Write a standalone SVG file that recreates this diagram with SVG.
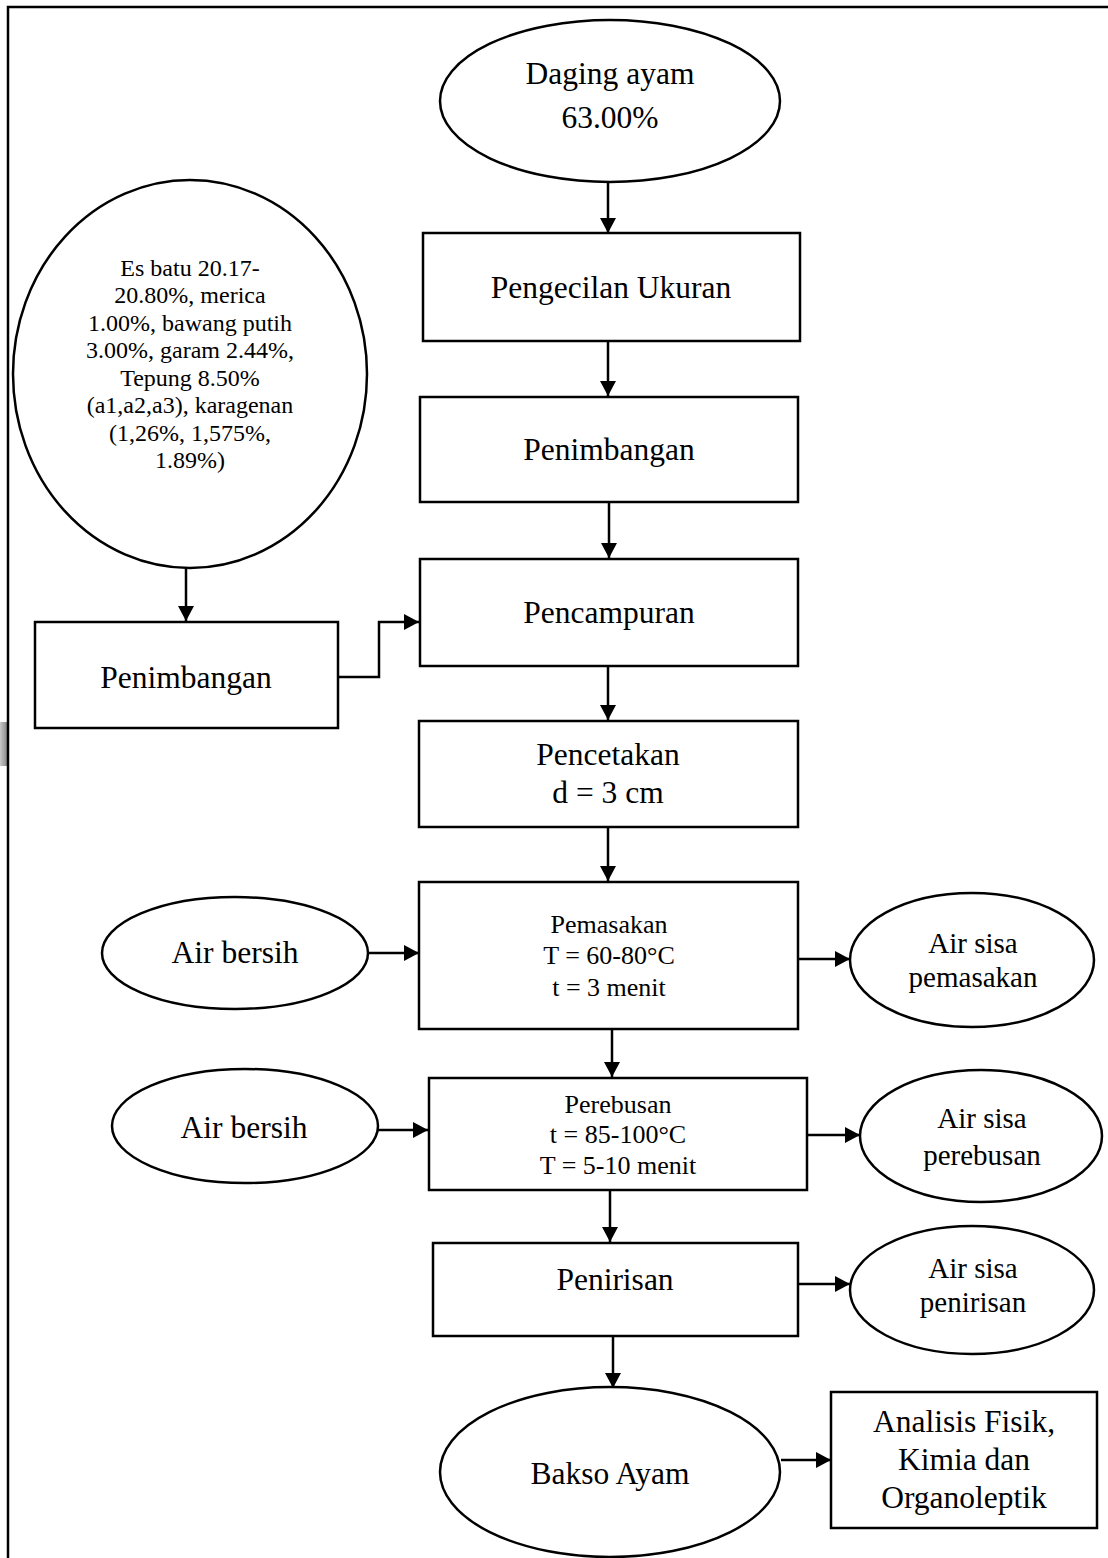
<svg xmlns="http://www.w3.org/2000/svg" width="1108" height="1558" viewBox="0 0 1108 1558">
<style>
.s{fill:#fff;stroke:#000;stroke-width:2.5}
.t{font-family:"Liberation Serif","Times New Roman",serif;fill:#000;text-anchor:middle}
.f31{font-size:31.5px}
.f29{font-size:29px}
.f26{font-size:26px}
.f24{font-size:24px}
.c{fill:none;stroke:#000;stroke-width:2.5}
</style>
<defs>
<marker id="ah" markerUnits="userSpaceOnUse" markerWidth="15" markerHeight="16" refX="15" refY="8" orient="auto">
<path d="M0,0 L15,8 L0,16 z" fill="#000"/>
</marker>
<linearGradient id="gr" x1="0" y1="0" x2="1" y2="0">
<stop offset="0" stop-color="#c8c8c8"/>
<stop offset="1" stop-color="#8a8a8a"/>
</linearGradient>
</defs>
<rect width="1108" height="1558" fill="#fff"/>
<rect x="0" y="722" width="7" height="44" fill="url(#gr)"/>
<path d="M8,1560 V7 H1110" fill="none" stroke="#000" stroke-width="2.5"/>

<g id="connectors">
<line class="c" x1="608" y1="182" x2="608" y2="233" marker-end="url(#ah)"/>
<line class="c" x1="608" y1="341" x2="608" y2="396" marker-end="url(#ah)"/>
<line class="c" x1="609" y1="502" x2="609" y2="558" marker-end="url(#ah)"/>
<line class="c" x1="608" y1="666" x2="608" y2="720" marker-end="url(#ah)"/>
<line class="c" x1="608" y1="827" x2="608" y2="881" marker-end="url(#ah)"/>
<line class="c" x1="186" y1="568" x2="186" y2="621" marker-end="url(#ah)"/>
<polyline class="c" points="338,677 379,677 379,622 419,622" marker-end="url(#ah)"/>
<line class="c" x1="367" y1="953" x2="419" y2="953" marker-end="url(#ah)"/>
<line class="c" x1="798" y1="959" x2="850" y2="959" marker-end="url(#ah)"/>
<line class="c" x1="612" y1="1029" x2="612" y2="1077" marker-end="url(#ah)"/>
<line class="c" x1="377" y1="1130" x2="428" y2="1130" marker-end="url(#ah)"/>
<line class="c" x1="807" y1="1135" x2="860" y2="1135" marker-end="url(#ah)"/>
<line class="c" x1="610" y1="1190" x2="610" y2="1242" marker-end="url(#ah)"/>
<line class="c" x1="798" y1="1284" x2="850" y2="1284" marker-end="url(#ah)"/>
<line class="c" x1="613" y1="1336" x2="613" y2="1388" marker-end="url(#ah)"/>
<line class="c" x1="781" y1="1460" x2="831" y2="1460" marker-end="url(#ah)"/>
</g>

<g id="daging-ayam">
<ellipse class="s" cx="610" cy="101" rx="170" ry="81"/>
<text class="t f31" x="610" y="84">Daging ayam</text>
<text class="t f31" x="610" y="128">63.00%</text>
</g>

<g id="pengecilan">
<rect class="s" x="423" y="233" width="377" height="108"/>
<text class="t f31" x="611" y="298">Pengecilan Ukuran</text>
</g>

<g id="penimbangan-1">
<rect class="s" x="420" y="397" width="378" height="105"/>
<text class="t f31" x="609" y="460">Penimbangan</text>
</g>

<g id="pencampuran">
<rect class="s" x="420" y="559" width="378" height="107"/>
<text class="t f31" x="609" y="623">Pencampuran</text>
</g>

<g id="bahan">
<ellipse class="s" cx="190" cy="374" rx="177" ry="194"/>
<text class="t f24" x="190" y="276">Es batu 20.17-</text>
<text class="t f24" x="190" y="303">20.80%, merica</text>
<text class="t f24" x="190" y="331">1.00%, bawang putih</text>
<text class="t f24" x="190" y="358">3.00%, garam 2.44%,</text>
<text class="t f24" x="190" y="386">Tepung 8.50%</text>
<text class="t f24" x="190" y="413">(a1,a2,a3), karagenan</text>
<text class="t f24" x="190" y="441">(1,26%, 1,575%,</text>
<text class="t f24" x="190" y="468">1.89%)</text>
</g>

<g id="penimbangan-2">
<rect class="s" x="35" y="622" width="303" height="106"/>
<text class="t f31" x="186" y="688">Penimbangan</text>
</g>

<g id="pencetakan">
<rect class="s" x="419" y="721" width="379" height="106"/>
<text class="t f31" x="608" y="765">Pencetakan</text>
<text class="t f31" x="608" y="803">d = 3 cm</text>
</g>

<g id="pemasakan">
<rect class="s" x="419" y="882" width="379" height="147"/>
<text class="t f26" x="609" y="933">Pemasakan</text>
<text class="t f26" x="609" y="964">T = 60-80°C</text>
<text class="t f26" x="609" y="996">t = 3 menit</text>
</g>

<g id="air-bersih-1">
<ellipse class="s" cx="235" cy="953" rx="133" ry="56"/>
<text class="t f31" x="235" y="963">Air bersih</text>
</g>

<g id="air-sisa-pemasakan">
<ellipse class="s" cx="972" cy="960" rx="122" ry="67"/>
<text class="t f29" x="973" y="953">Air sisa</text>
<text class="t f29" x="973" y="987">pemasakan</text>
</g>

<g id="perebusan">
<rect class="s" x="429" y="1078" width="378" height="112"/>
<text class="t f26" x="618" y="1113">Perebusan</text>
<text class="t f26" x="618" y="1143">t = 85-100°C</text>
<text class="t f26" x="618" y="1174">T = 5-10 menit</text>
</g>

<g id="air-bersih-2">
<ellipse class="s" cx="245" cy="1126" rx="133" ry="57"/>
<text class="t f31" x="244" y="1138">Air bersih</text>
</g>

<g id="air-sisa-perebusan">
<ellipse class="s" cx="981" cy="1136" rx="121" ry="66"/>
<text class="t f29" x="982" y="1128">Air sisa</text>
<text class="t f29" x="982" y="1165">perebusan</text>
</g>

<g id="penirisan">
<rect class="s" x="433" y="1243" width="365" height="93"/>
<text class="t f31" x="615" y="1290">Penirisan</text>
</g>

<g id="air-sisa-penirisan">
<ellipse class="s" cx="972" cy="1290" rx="122" ry="64"/>
<text class="t f29" x="973" y="1278">Air sisa</text>
<text class="t f29" x="973" y="1312">penirisan</text>
</g>

<g id="bakso-ayam">
<ellipse class="s" cx="610" cy="1472" rx="170" ry="85"/>
<text class="t f31" x="610" y="1484">Bakso Ayam</text>
</g>

<g id="analisis">
<rect class="s" x="831" y="1392" width="266" height="136"/>
<text class="t f31" x="964" y="1432">Analisis Fisik,</text>
<text class="t f31" x="964" y="1470">Kimia dan</text>
<text class="t f31" x="964" y="1508">Organoleptik</text>
</g>
</svg>
